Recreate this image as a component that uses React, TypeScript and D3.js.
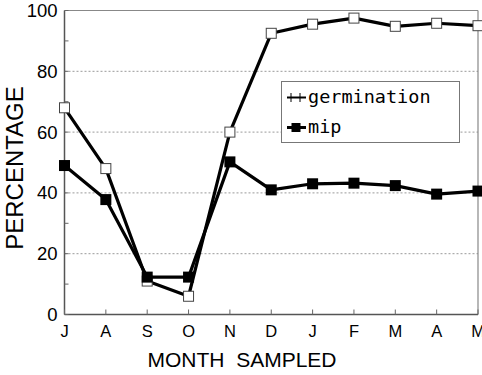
import * as d3 from 'd3';

const months = ['J', 'A', 'S', 'O', 'N', 'D', 'J', 'F', 'M', 'A', 'M'];
const germination = [68, 48, 11, 6, 60, 92.5, 95.5, 97.5, 94.8, 95.8, 95];
const mip = [49, 37.8, 12.3, 12.3, 50.2, 41, 43, 43.2, 42.4, 39.6, 40.6];
const yTicks = [0, 20, 40, 60, 80, 100];
const yMinor = [10, 30, 50, 70, 90];

const W = 482;
const H = 375;
const m = { left: 64.5, right: 478, top: 10.5, bottom: 314.5 };

export default function App() {
  const x = d3
    .scalePoint<number>()
    .domain(months.map((_, i) => i))
    .range([m.left, m.right]);
  const y = d3.scaleLinear().domain([0, 100]).range([m.bottom, m.top]);

  const line = d3
    .line<number>()
    .x((_, i) => x(i)!)
    .y((d) => y(d));

  const sans = 'Liberation Sans, Arial, sans-serif';
  const mono = 'DejaVu Sans Mono, monospace';

  return (
    <svg
      width={W}
      height={H}
      style={{ position: 'absolute', left: 0, top: 0, background: '#fff' }}
    >
      {/* grid */}
      {yTicks
        .filter((t) => t > 0 && t < 100)
        .map((t) => (
          <line
            key={'g' + t}
            x1={m.left}
            x2={m.right}
            y1={y(t)}
            y2={y(t)}
            stroke="#999"
            strokeWidth={1}
            strokeDasharray="2,2"
          />
        ))}
      {/* frame */}
      <line x1={m.left} x2={m.right} y1={y(100)} y2={y(100)} stroke="#888" strokeWidth={1.2} />
      <line x1={m.right} x2={m.right} y1={m.top} y2={m.bottom} stroke="#888" strokeWidth={1.2} />
      <line x1={m.left} x2={m.right} y1={m.bottom} y2={m.bottom} stroke="#555" strokeWidth={1.5} />
      <line x1={m.left} x2={m.left} y1={m.top} y2={m.bottom} stroke="#555" strokeWidth={1.5} />

      {/* y ticks */}
      {yTicks.concat(yMinor).map((t) => (
        <line key={'yt' + t} x1={m.left} x2={m.left + 4} y1={y(t)} y2={y(t)} stroke="#666" />
      ))}
      {yTicks.map((t) => (
        <text
          key={'yl' + t}
          x={m.left - 7}
          y={y(t) + 6.5}
          textAnchor="end"
          fontFamily={sans}
          fontSize={18.5}
        >
          {t}
        </text>
      ))}

      {/* x ticks */}
      {months.map((mo, i) => (
        <g key={'x' + i}>
          <line x1={x(i)} x2={x(i)} y1={m.bottom} y2={m.bottom - 5} stroke="#666" />
          <text
            x={x(i)}
            y={337}
            textAnchor="middle"
            fontFamily={sans}
            fontSize={16.5}
          >
            {mo}
          </text>
        </g>
      ))}

      {/* axis titles */}
      <text
        transform="translate(22.5,168) rotate(-90)"
        textAnchor="middle"
        fontFamily={sans}
        fontSize={24}
      >
        PERCENTAGE
      </text>
      <text
        x={242}
        y={367}
        textAnchor="middle"
        fontFamily={sans}
        fontSize={21}
        style={{ whiteSpace: 'pre' }}
      >
        MONTH  SAMPLED
      </text>

      {/* germination */}
      <path d={line(germination)!} fill="none" stroke="#000" strokeWidth={3.2} strokeLinejoin="round" />
      {germination.map((v, i) => (
        <rect
          key={'gm' + i}
          x={x(i)! - 5}
          y={y(v) - 5}
          width={10}
          height={10}
          fill="#fff"
          stroke="#444"
          strokeWidth={1}
        />
      ))}

      {/* mip */}
      <path d={line(mip)!} fill="none" stroke="#000" strokeWidth={3.2} strokeLinejoin="round" />
      {mip.map((v, i) => (
        <rect key={'mm' + i} x={x(i)! - 5.5} y={y(v) - 5.5} width={11} height={11} fill="#000" />
      ))}

      {/* legend */}
      <rect x={281.5} y={81.5} width={178} height={61} fill="#fff" stroke="#777" strokeWidth={1} />
      <line x1={287} x2={306} y1={97.5} y2={97.5} stroke="#000" strokeWidth={2} />
      <line x1={291} x2={291} y1={93} y2={102} stroke="#000" strokeWidth={1} />
      <line x1={300} x2={300} y1={93} y2={102} stroke="#000" strokeWidth={1} />
      <text x={308} y={103} fontFamily={mono} fontSize={18.5}>
        germination
      </text>
      <line x1={287} x2={306} y1={127.5} y2={127.5} stroke="#000" strokeWidth={3} />
      <rect x={291.5} y={123} width={9} height={9} fill="#000" />
      <text x={308} y={133} fontFamily={mono} fontSize={18.5}>
        mip
      </text>
    </svg>
  );
}
